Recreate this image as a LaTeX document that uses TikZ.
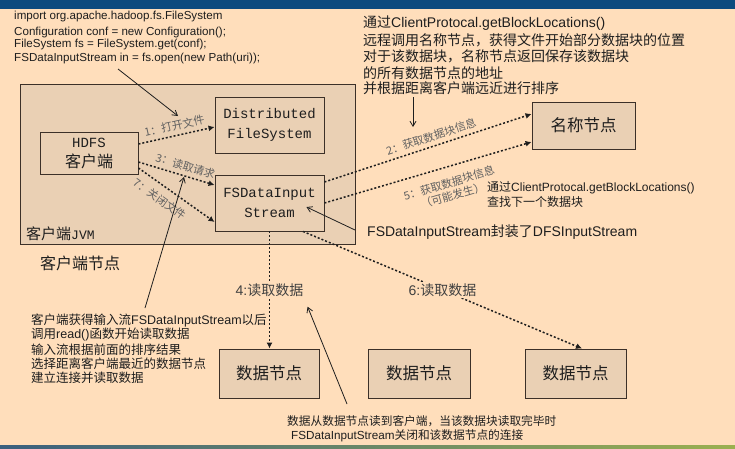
\documentclass[tikz,border=0pt]{standalone}
\usepackage{fontspec}
\setmainfont{Liberation Sans}
\newfontfamily\cjk{Noto Sans CJK SC}
\newfontfamily\monof{Liberation Mono}
\usetikzlibrary{arrows.meta,calc}
\definecolor{bg}{HTML}{FFDEBB}
\definecolor{boxfill}{HTML}{EAD0B4}
\definecolor{boxline}{HTML}{3C3028}
\definecolor{topbar}{HTML}{0C4A7E}
\definecolor{txt}{HTML}{1E1E1E}
\definecolor{lbl}{HTML}{606060}
\newcommand{\zh}[1]{{\cjk #1}}
\tikzset{
  box/.style={draw=boxline, fill=boxfill, line width=0.9pt, inner sep=0pt, align=center, text=txt},
  dotarrow/.style={draw=txt, line width=1.5pt, dash pattern=on 2pt off 2pt, -{Latex[length=6pt,width=6pt]}},
  callout/.style={draw=txt, line width=0.8pt, -{Straight Barb[length=5pt,width=6pt]}},
  plain/.style={inner sep=0pt, anchor=west, text=txt},
  arrlbl/.style={text=lbl, inner sep=1pt, font=\fontsize{11}{13}\selectfont\cjk},
  datalbl/.style={text=txt!85, fill=bg, inner sep=1.5pt, font=\fontsize{14}{16}\selectfont},
}
\begin{document}
\begin{tikzpicture}[x=1pt,y=-1pt]
\fill[bg] (0,0) rectangle (735,448);
\fill[topbar] (0,0) rectangle (735,9);
\shade[left color=topbar!60!gray, right color={rgb,255:red,155;green,176;blue,80}] (0,445.5) rectangle (735,448);
\useasboundingbox (0,0) rectangle (735,448);

% boxes
\node[box, minimum width=335, minimum height=160] (jvm) at (187.5,164) {};
\node[plain, font=\fontsize{15}{17}\selectfont] (jvmlbl) at (26,234) {\zh{客户端}{\monof\fontsize{13}{15}\selectfont JVM}};
\node[box, minimum width=98, minimum height=42, font=\fontsize{14}{20}\selectfont] (hdfs) at (89,153)
  {{\monof HDFS}\\{\cjk\fontsize{16}{20}\selectfont 客户端}};
\node[box, minimum width=109, minimum height=56, font=\monof\fontsize{14}{20}\selectfont] (dfs) at (269.5,125) {Distributed\\FileSystem};
\node[box, minimum width=109, minimum height=56, font=\monof\fontsize{14}{20}\selectfont] (fsin) at (269.5,203) {FSDataInput\\Stream};
\node[box, minimum width=103, minimum height=47, font=\cjk\fontsize{16.5}{20}\selectfont] (nn) at (583.5,125.5) {名称节点};
\node[box, minimum width=100, minimum height=49, font=\cjk\fontsize{16.5}{20}\selectfont] (dn1) at (269,373.5) {数据节点};
\node[box, minimum width=102, minimum height=49, font=\cjk\fontsize{16.5}{20}\selectfont] (dn2) at (419,373.5) {数据节点};
\node[box, minimum width=101, minimum height=49, font=\cjk\fontsize{16.5}{20}\selectfont] (dn3) at (575.5,373.5) {数据节点};
\node[plain, font=\cjk\fontsize{16}{18}\selectfont] (clientnode) at (40,263) {客户端节点};

% code text
\begin{scope}[every node/.style={plain, font=\fontsize{11.6}{13}\selectfont}]
\node (code1) at (14,16) {import org.apache.hadoop.fs.FileSystem};
\node (code2) at (14,32.5) {Configuration conf = new Configuration();};
\node (code3) at (14,44.5) {FileSystem fs = FileSystem.get(conf);};
\node (code4) at (14,58) {FSDataInputStream in = fs.open(new Path(uri));};
\end{scope}

% top right text
\begin{scope}[every node/.style={plain, font=\fontsize{14}{16}\selectfont}]
\node (tr1) at (363,22.7) {\zh{通过}ClientProtocal.getBlockLocations()};
\node (tr2) at (363,40) {\zh{远程调用名称节点，获得文件开始部分数据块的位置}};
\node (tr3) at (363,56.5) {\zh{对于该数据块，名称节点返回保存该数据块}};
\node (tr4) at (363,72.7) {\zh{的所有数据节点的地址}};
\node (tr5) at (363,88.3) {\zh{并根据距离客户端远近进行排序}};
\node (wrap) at (367,232) {FSDataInputStream\zh{封装了}DFSInputStream};
\end{scope}

\begin{scope}[every node/.style={plain, font=\fontsize{12}{14}\selectfont}]
\node (nx1) at (487,188) {\zh{通过}ClientProtocal.getBlockLocations()};
\node (nx2) at (487,202) {\zh{查找下一个数据块}};
\end{scope}

\begin{scope}[every node/.style={plain, font=\fontsize{12.5}{14}\selectfont}]
\node (bl1) at (31,320) {\zh{客户端获得输入流}FSDataInputStream\zh{以后}};
\node (bl2) at (31,335) {\zh{调用}read()\zh{函数开始读取数据}};
\node (bl3) at (31,349.5) {\zh{输入流根据前面的排序结果}};
\node (bl4) at (31,364) {\zh{选择距离客户端最近的数据节点}};
\node (bl5) at (31,378) {\zh{建立连接并读取数据}};
\end{scope}

\begin{scope}[every node/.style={plain, font=\fontsize{11.7}{13}\selectfont}]
\node (bt1) at (287,421) {\zh{数据从数据节点读到客户端，当该数据块读取完毕时}};
\node (bt2) at (291,435.5) {FSDataInputStream\zh{关闭和该数据节点的连接}};
\end{scope}

% dotted arrows
\draw[dotarrow] ([yshift=9pt]hdfs.east) -- node[arrlbl, sloped, above=3pt, pos=0.5] (l1) {1：打开文件} ([yshift=-2pt]dfs.west);
\draw[dotarrow] ([yshift=-9pt]hdfs.east) -- node[arrlbl, sloped, above=3pt, pos=0.58] (l3) {3：读取请求} ([yshift=18pt]fsin.west);
\draw[dotarrow] ([yshift=-15pt]hdfs.east) -- node[arrlbl, sloped, below=6pt, pos=0.38] (l7) {7：关闭文件} ([yshift=-19pt]fsin.west);
\draw[dotarrow] ([yshift=21pt]fsin.east) -- node[arrlbl, sloped, above=3pt, pos=0.53] (l2) {2：获取数据块信息} ([yshift=11.5pt]nn.west);
\draw[dotarrow] (fsin.east) -- node[arrlbl, sloped, below=9pt, pos=0.58, align=center] (l5) {5：获取数据块信息\\（可能发生）} ([yshift=-16.5pt]nn.west);
\draw[dotarrow] (fsin.south) -- node[datalbl, pos=0.5] (l4) {4:\zh{读取数据}} (fsin.south |- dn1.north);
\draw[dotarrow] ([xshift=33.5pt]fsin.south) -- node[datalbl, pos=0.5] (l6) {6:\zh{读取数据}} ([xshift=6.5pt]dn3.north);

% callouts
\coordinate (ca) at (118,69);
\coordinate (cat) at (178,116);
\draw[callout] (ca) -- (cat);
\coordinate (cb) at (413,97);
\coordinate (cbt) at (413,127);
\draw[callout] (cb) -- (cbt);
\coordinate (cc) at (355,230);
\draw[callout] (cc) -- ([xshift=-18pt,yshift=-4pt]fsin.east);
\coordinate (ce) at (145,308);
\coordinate (cet) at (184,177);
\draw[callout] (ce) -- (cet);
\coordinate (cf) at (347,404);
\draw[callout] (cf) -- ([xshift=2pt,yshift=-8pt]l4.south east);
\end{tikzpicture}
\end{document}
